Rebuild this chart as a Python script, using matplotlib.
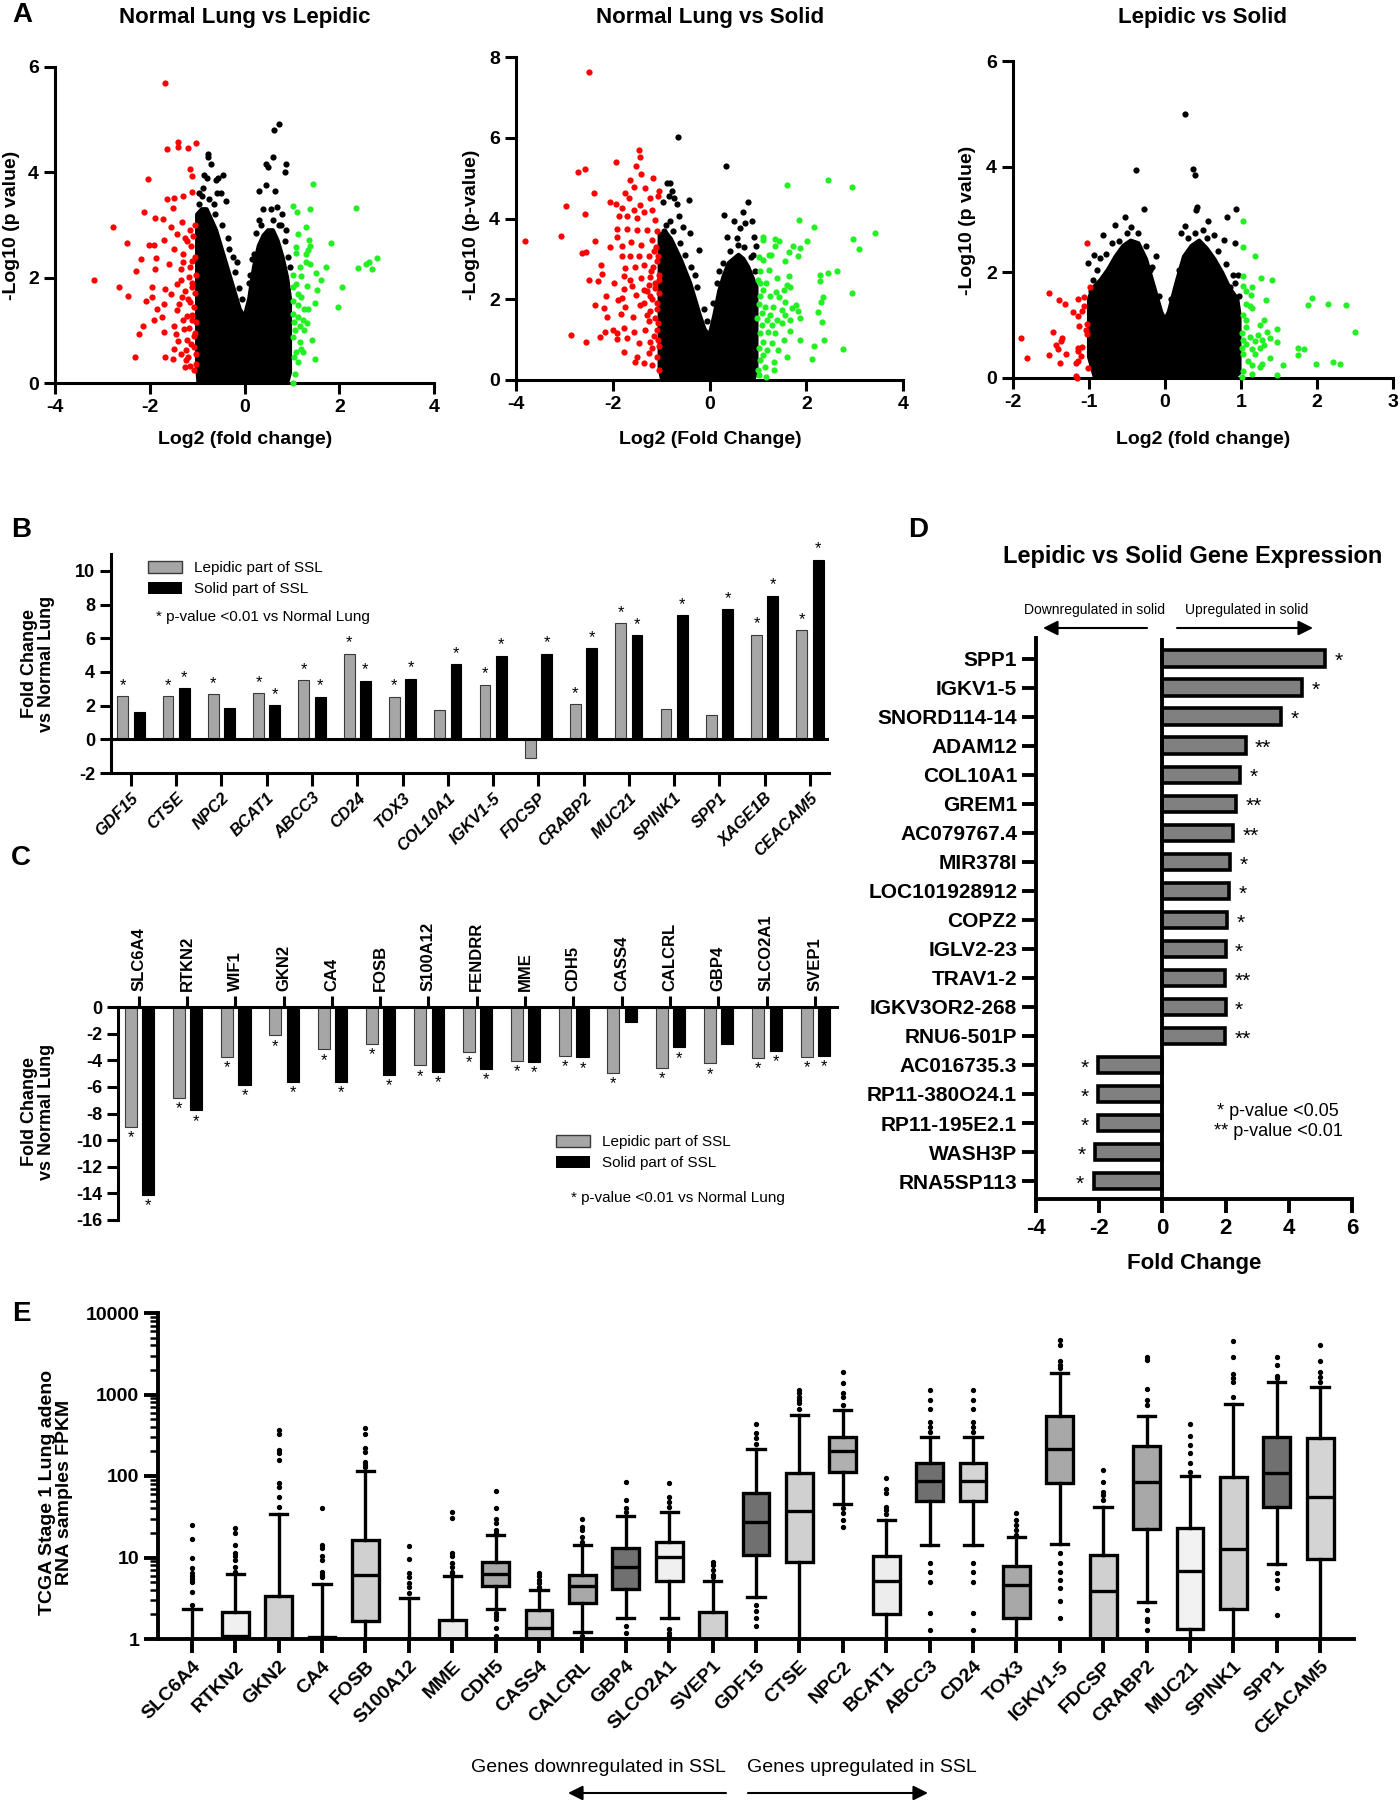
import matplotlib
matplotlib.use('Agg')
import matplotlib.pyplot as plt
from matplotlib.patches import Patch
from matplotlib.font_manager import FontProperties

plt.rcParams['font.family'] = ['Liberation Sans', 'DejaVu Sans']
plt.rcParams['axes.unicode_minus'] = False
NARROW = ['Liberation Sans Narrow', 'Liberation Sans', 'DejaVu Sans']

# ---------------- data: panel A (volcano plots) ----------------
a1_red = [(-1.68, 5.70), (-1.63, 4.44), (-1.41, 4.58), (-1.40, 4.49), (-1.19, 4.47), (-1.03, 4.55),
          (-2.04, 3.88), (-1.14, 4.07), (-1.11, 3.93), (-1.63, 3.50), (-1.49, 3.52), (-1.29, 3.55),
          (-1.10, 3.62), (-2.13, 3.24), (-1.50, 3.33), (-1.89, 3.14), (-1.73, 3.11), (-2.78, 2.97),
          (-1.56, 2.97), (-1.31, 3.05), (-2.48, 2.66), (-2.01, 2.62), (-1.91, 2.62), (-1.70, 2.71),
          (-1.42, 2.83), (-1.21, 2.70), (-2.19, 2.35), (-1.87, 2.38), (-1.49, 2.54), (-1.29, 2.45),
          (-1.10, 2.32), (-2.29, 2.13), (-1.89, 2.16), (-1.59, 2.26), (-1.35, 2.16), (-1.17, 2.01),
          (-3.18, 1.96), (-2.64, 1.82), (-1.96, 1.82), (-1.68, 1.79), (-1.42, 1.88), (-1.10, 1.82),
          (-2.45, 1.66), (-2.08, 1.56), (-1.96, 1.63), (-1.56, 1.69), (-1.31, 1.63), (-1.14, 1.53),
          (-1.85, 1.41), (-1.70, 1.50), (-1.42, 1.38), (-1.21, 1.28), (-1.92, 1.20), (-1.75, 1.25),
          (-1.49, 1.09), (-1.28, 1.03), (-1.10, 1.19), (-2.15, 1.09), (-2.22, 0.93), (-1.70, 0.97),
          (-1.45, 0.93), (-1.21, 0.81), (-1.07, 0.90), (-1.49, 0.65), (-1.24, 0.62), (-1.07, 0.68),
          (-2.31, 0.49), (-1.68, 0.49), (-1.51, 0.46), (-1.24, 0.43), (-1.14, 0.33), (-1.03, 0.37),
          (-1.05, 3.00), (-1.08, 2.80), (-1.12, 2.60), (-1.05, 2.40), (-1.15, 2.20), (-1.03, 2.05),
          (-1.10, 1.90), (-1.04, 1.70), (-1.20, 1.60), (-1.06, 1.45), (-1.10, 1.30), (-1.03, 1.15),
          (-1.18, 1.05), (-1.05, 0.95), (-1.12, 0.75), (-1.03, 0.55), (-1.20, 0.50), (-1.06, 0.25),
          (-1.25, 0.30), (-1.15, 2.90), (-1.25, 2.75), (-1.30, 2.30), (-1.35, 1.95), (-1.25, 1.75),
          (-1.38, 1.50), (-1.30, 1.20), (-1.40, 0.80), (-1.33, 0.55)]
a1_green = [(1.45, 3.78), (1.03, 3.36), (1.38, 3.31), (2.35, 3.33), (1.10, 3.24), (1.29, 2.97),
            (1.12, 2.83), (1.36, 2.72), (1.83, 2.65), (1.08, 2.59), (1.38, 2.61), (1.34, 2.52),
            (1.29, 2.45), (1.08, 2.46), (1.29, 2.29), (1.38, 2.26), (1.71, 2.21), (1.17, 2.20),
            (2.39, 2.18), (2.56, 2.26), (2.63, 2.29), (2.79, 2.37), (2.70, 2.16), (1.03, 2.06),
            (1.20, 2.04), (1.50, 2.08), (1.62, 1.96), (1.08, 1.88), (1.03, 1.82), (1.31, 1.85),
            (1.52, 1.77), (2.06, 1.83), (1.12, 1.69), (1.20, 1.63), (1.03, 1.56), (1.48, 1.52),
            (1.98, 1.45), (1.13, 1.49), (1.25, 1.41), (1.34, 1.41), (1.03, 1.31), (1.13, 1.25),
            (1.24, 1.19), (1.05, 1.15), (1.17, 1.09), (1.31, 1.14), (1.06, 1.00), (1.25, 1.01),
            (1.03, 0.87), (1.43, 0.81), (1.17, 0.78), (1.20, 0.65), (1.08, 0.59), (1.24, 0.59),
            (1.48, 0.46), (1.05, 0.49), (1.13, 0.40), (1.06, 0.18), (1.03, 0.00)]
a1_black = [(-0.78, 4.35), (-0.77, 4.30), (-0.70, 4.15), (-0.85, 3.95), (-0.80, 3.90), (-0.55, 3.90),
            (-0.45, 3.95), (-0.60, 3.85), (-0.58, 3.60), (-0.50, 3.60), (-0.40, 3.45), (-0.90, 3.55),
            (-0.75, 3.50), (0.30, 3.65), (0.45, 3.75), (0.45, 4.15), (0.50, 4.10), (0.60, 4.30),
            (0.62, 4.80), (0.72, 4.92), (0.87, 4.15), (0.86, 4.00), (0.65, 3.65), (0.68, 3.35),
            (0.55, 3.30), (0.38, 3.30), (0.30, 3.10), (0.80, 3.20), (0.78, 3.00), (0.88, 2.90),
            (-0.35, 2.75), (-0.25, 2.40), (0.10, 1.90), (0.20, 2.45), (0.92, 2.40), (-0.95, 3.40),
            (-0.95, 3.60), (-0.88, 3.70), (-0.65, 3.40), (-0.62, 3.20), (-0.47, 3.00), (-0.33, 2.55),
            (-0.20, 2.10), (-0.12, 1.80), (0.12, 2.05), (0.25, 2.85), (0.35, 3.00), (0.60, 3.10),
            (0.72, 3.00), (0.85, 2.70), (0.95, 2.20), (-0.15, 2.30), (0.15, 2.35), (-0.05, 1.60)]
a1_env = [(-0.97, 0.0), (-1.0, 0.3), (-1.0, 3.2), (-0.9, 3.3), (-0.8, 3.3), (-0.7, 3.1), (-0.6, 2.9),
          (-0.5, 2.6), (-0.4, 2.3), (-0.3, 2.0), (-0.2, 1.7), (-0.1, 1.4), (0.0, 1.25), (0.1, 1.6),
          (0.2, 2.2), (0.3, 2.6), (0.4, 2.8), (0.5, 2.9), (0.6, 2.9), (0.7, 2.7), (0.8, 2.4),
          (0.9, 2.0), (0.96, 1.6), (0.96, 0.2), (0.9, 0.0)]

a2_red = [(-2.50, 7.64), (-1.46, 5.70), (-1.43, 5.52), (-1.93, 5.40), (-2.57, 5.22), (-2.72, 5.16),
          (-1.52, 5.31), (-1.42, 5.10), (-1.17, 5.00), (-1.64, 4.96), (-1.57, 4.79), (-1.34, 4.75),
          (-2.39, 4.63), (-1.74, 4.64), (-1.05, 4.69), (-1.67, 4.50), (-1.22, 4.50), (-1.07, 4.55),
          (-2.96, 4.31), (-2.06, 4.40), (-1.93, 4.36), (-1.44, 4.34), (-1.81, 4.26), (-1.57, 4.20),
          (-1.36, 4.17), (-1.19, 4.21), (-2.58, 4.11), (-1.88, 4.05), (-1.71, 4.05), (-1.50, 4.01),
          (-1.12, 3.97), (-1.91, 3.74), (-1.71, 3.74), (-1.50, 3.72), (-1.29, 3.72), (-1.09, 3.68),
          (-3.82, 3.45), (-3.06, 3.57), (-2.36, 3.45), (-1.91, 3.55), (-1.81, 3.32), (-1.62, 3.43),
          (-1.42, 3.35), (-1.19, 3.47), (-2.06, 3.29), (-2.63, 3.14), (-2.56, 3.18), (-1.81, 3.07),
          (-1.65, 3.06), (-1.46, 3.06), (-1.26, 3.06), (-1.07, 3.07), (-2.24, 2.85), (-1.75, 2.77),
          (-1.55, 2.81), (-1.36, 2.85), (-1.16, 2.81), (-2.22, 2.63), (-2.30, 2.44), (-1.77, 2.58),
          (-1.64, 2.48), (-1.42, 2.52), (-1.22, 2.56), (-1.05, 2.48), (-2.50, 2.48), (-1.97, 2.41),
          (-1.77, 2.25), (-1.60, 2.33), (-1.36, 2.23), (-1.12, 2.27), (-2.13, 2.08), (-1.81, 2.02),
          (-1.51, 2.11), (-1.22, 2.07), (-2.36, 1.86), (-2.19, 1.78), (-1.90, 1.97), (-1.74, 1.82),
          (-1.43, 1.86), (-1.09, 1.90), (-2.12, 1.55), (-1.83, 1.64), (-1.59, 1.57), (-1.29, 1.61),
          (-1.12, 1.53), (-2.15, 1.20), (-2.00, 1.24), (-1.91, 1.16), (-1.77, 1.28), (-1.57, 1.18),
          (-1.33, 1.24), (-1.09, 1.24), (-2.86, 1.12), (-2.27, 1.07), (-1.91, 1.01), (-1.71, 1.03),
          (-1.46, 0.91), (-1.22, 0.95), (-1.05, 0.83), (-2.55, 0.95), (-1.76, 0.70), (-1.50, 0.58),
          (-1.26, 0.66), (-1.09, 0.58), (-1.53, 0.45), (-1.36, 0.41), (-1.19, 0.37), (-1.05, 0.26),
          (-1.10, 3.30), (-1.15, 3.20), (-1.08, 2.95), (-1.20, 2.70), (-1.05, 2.60), (-1.12, 2.40),
          (-1.25, 2.35), (-1.05, 2.15), (-1.18, 2.00), (-1.30, 2.20), (-1.08, 1.75), (-1.22, 1.70),
          (-1.35, 1.90), (-1.07, 1.40), (-1.15, 1.10), (-1.25, 1.45), (-1.06, 1.00), (-1.18, 0.80)]
a2_green = [(1.60, 4.83), (2.45, 4.96), (2.95, 4.77), (1.85, 3.97), (2.16, 3.80), (3.42, 3.65),
            (1.11, 3.55), (1.10, 3.47), (1.35, 3.50), (1.44, 3.45), (1.35, 3.32), (1.72, 3.32),
            (2.02, 3.45), (2.97, 3.49), (3.09, 3.25), (1.87, 3.26), (1.22, 3.10), (1.27, 3.10),
            (1.65, 3.16), (1.82, 3.06), (1.03, 3.04), (1.11, 2.98), (1.56, 2.95), (1.22, 2.73),
            (1.05, 2.69), (2.63, 2.70), (2.45, 2.66), (2.29, 2.60), (1.40, 2.52), (1.64, 2.58),
            (2.29, 2.44), (1.01, 2.48), (1.05, 2.40), (1.17, 2.40), (1.60, 2.36), (1.11, 2.23),
            (1.38, 2.17), (1.53, 2.23), (1.66, 2.30), (2.94, 2.15), (2.35, 2.05), (1.05, 2.08),
            (1.25, 2.07), (1.44, 2.05), (1.56, 1.94), (2.31, 1.92), (1.79, 1.86), (1.02, 1.88),
            (1.15, 1.82), (1.32, 1.80), (1.49, 1.74), (1.70, 1.78), (1.83, 1.72), (2.25, 1.69),
            (1.08, 1.65), (1.25, 1.61), (1.56, 1.61), (1.87, 1.53), (0.99, 1.53), (1.18, 1.49),
            (1.39, 1.49), (1.66, 1.49), (2.32, 1.43), (1.08, 1.36), (1.29, 1.36), (1.49, 1.40),
            (1.66, 1.21), (1.05, 1.16), (1.20, 1.20), (1.35, 1.16), (1.53, 0.98), (1.88, 0.99),
            (2.37, 0.98), (1.10, 0.95), (1.29, 0.91), (2.15, 0.85), (1.03, 0.79), (1.18, 0.74),
            (1.42, 0.74), (2.76, 0.77), (1.11, 0.62), (1.60, 0.58), (2.11, 0.52), (1.05, 0.50),
            (1.33, 0.45), (1.15, 0.33), (1.01, 0.25), (1.33, 0.25), (1.03, 0.12), (1.16, 0.07)]
a2_black = [(-0.66, 6.03), (0.34, 5.31), (-0.88, 4.89), (-0.81, 4.89), (-0.78, 4.67), (-0.83, 4.56),
            (-0.73, 4.50), (-0.43, 4.46), (-0.67, 4.36), (-0.96, 4.42), (-0.63, 4.05), (-0.81, 3.93),
            (0.80, 4.42), (0.69, 4.15), (0.30, 4.09), (0.50, 3.95), (0.87, 3.95), (0.74, 3.90),
            (0.63, 3.76), (0.92, 3.55), (0.36, 3.55), (0.56, 3.51), (0.96, 3.31), (-0.21, 3.21),
            (-0.40, 3.64), (-0.95, 3.68), (-0.54, 3.80), (-0.30, 2.60), (0.20, 2.70), (0.90, 3.10),
            (-0.90, 3.85), (-0.75, 3.70), (-0.62, 3.40), (-0.50, 3.10), (-0.38, 2.80), (-0.25, 2.30),
            (-0.12, 1.75), (0.08, 1.90), (0.15, 2.40), (0.28, 2.90), (0.42, 3.20), (0.58, 3.35),
            (0.72, 3.30), (0.85, 3.05), (0.95, 2.70), (-0.05, 1.45)]
a2_env = [(-0.98, 0.0), (-1.03, 0.3), (-1.03, 3.6), (-0.9, 3.65), (-0.8, 3.5), (-0.7, 3.25),
          (-0.6, 3.0), (-0.5, 2.7), (-0.4, 2.4), (-0.3, 2.0), (-0.2, 1.6), (-0.1, 1.25), (0.0, 1.1),
          (0.1, 1.6), (0.2, 2.2), (0.3, 2.6), (0.4, 2.9), (0.5, 3.0), (0.6, 3.1), (0.7, 3.0),
          (0.8, 2.8), (0.9, 2.5), (0.97, 2.3), (0.97, 0.2), (0.9, 0.0)]

a3_red = [(-1.02, 2.55), (-0.99, 1.72), (-1.52, 1.61), (-1.06, 1.54), (-1.15, 1.49), (-1.40, 1.48),
          (-1.32, 1.40), (-1.06, 1.36), (-1.21, 1.24), (-1.15, 1.17), (-1.09, 1.26), (-1.03, 1.03),
          (-1.13, 0.98), (-1.04, 0.90), (-1.48, 0.88), (-1.03, 0.84), (-1.36, 0.75), (-1.37, 0.70),
          (-1.90, 0.75), (-1.43, 0.62), (-1.15, 0.57), (-1.09, 0.59), (-1.41, 0.54), (-1.15, 0.52),
          (-1.30, 0.45), (-1.53, 0.44), (-1.81, 0.38), (-1.11, 0.41), (-1.15, 0.32), (-1.17, 0.28),
          (-1.38, 0.28), (-1.01, 0.18), (-1.17, 0.04), (-1.16, 0.00)]
a3_green = [(1.02, 2.98), (1.02, 2.48), (1.18, 2.31), (1.03, 1.94), (1.26, 1.90), (1.41, 1.86),
            (1.02, 1.74), (1.14, 1.72), (1.07, 1.64), (1.13, 1.57), (1.93, 1.52), (1.33, 1.47),
            (1.88, 1.38), (2.15, 1.41), (2.38, 1.38), (1.07, 1.41), (1.12, 1.36), (1.15, 1.33),
            (1.03, 1.19), (1.06, 1.09), (1.30, 1.09), (1.25, 1.00), (1.06, 0.97), (1.48, 0.93),
            (2.50, 0.87), (1.01, 0.85), (1.34, 0.88), (1.23, 0.82), (1.12, 0.78), (1.38, 0.76),
            (1.27, 0.71), (1.03, 0.71), (1.47, 0.68), (1.18, 0.70), (1.07, 0.65), (1.30, 0.63),
            (1.75, 0.56), (1.83, 0.54), (1.01, 0.57), (1.14, 0.54), (1.25, 0.56), (1.75, 0.43),
            (1.03, 0.46), (1.18, 0.46), (1.38, 0.37), (1.09, 0.33), (1.28, 0.27), (1.99, 0.27),
            (2.21, 0.30), (2.30, 0.27), (1.55, 0.24), (1.14, 0.24), (1.25, 0.20), (1.03, 0.13),
            (1.14, 0.08), (1.48, 0.06), (1.01, 0.02)]
a3_black = [(0.26, 5.00), (-0.38, 3.93), (0.37, 3.95), (0.39, 3.85), (0.42, 3.24), (0.41, 3.18),
            (-0.28, 3.20), (0.94, 3.19), (0.82, 3.04), (0.57, 2.98), (-0.53, 3.05), (-0.66, 2.89),
            (0.26, 2.87), (0.21, 2.74), (-0.81, 2.70), (0.92, 2.55), (0.77, 2.62), (-0.94, 2.32),
            (-0.85, 2.27), (-0.12, 2.31), (-0.17, 2.10), (-1.01, 2.17), (0.90, 1.95), (0.96, 1.95),
            (0.85, 1.72), (-0.70, 2.55), (0.65, 2.70), (-0.45, 2.85), (0.50, 2.80), (-0.95, 1.85),
            (-0.90, 2.05), (-0.78, 2.35), (-0.60, 2.60), (-0.50, 2.75), (-0.35, 2.75), (-0.25, 2.50),
            (-0.20, 2.05), (-0.08, 1.55), (0.08, 1.50), (0.18, 2.05), (0.30, 2.65), (0.40, 2.75),
            (0.55, 2.65), (0.70, 2.40), (0.80, 2.15), (0.92, 1.80), (-0.98, 1.65), (0.97, 1.55)]
a3_env = [(-0.92, 0.0), (-1.0, 0.4), (-1.0, 1.5), (-0.95, 1.7), (-0.85, 1.85), (-0.75, 2.05),
          (-0.65, 2.3), (-0.55, 2.5), (-0.45, 2.6), (-0.35, 2.55), (-0.25, 2.25), (-0.15, 1.75),
          (-0.05, 1.25), (0.0, 1.1), (0.05, 1.25), (0.15, 1.8), (0.25, 2.3), (0.35, 2.5), (0.45, 2.6),
          (0.55, 2.45), (0.65, 2.25), (0.75, 2.0), (0.85, 1.7), (0.95, 1.5), (0.98, 1.2), (0.98, 0.1),
          (0.9, 0.0)]

# ---------------- data: panel B ----------------
b_genes = ['GDF15', 'CTSE', 'NPC2', 'BCAT1', 'ABCC3', 'CD24', 'TOX3', 'COL10A1', 'IGKV1-5',
           'FDCSP', 'CRABP2', 'MUC21', 'SPINK1', 'SPP1', 'XAGE1B', 'CEACAM5']
b_lep = [2.56, 2.56, 2.68, 2.72, 3.52, 5.09, 2.52, 1.73, 3.24, -1.10, 2.07, 6.90, 1.81, 1.45, 6.20, 6.46]
b_sol = [1.61, 3.02, 1.85, 2.01, 2.54, 3.48, 3.60, 4.45, 4.97, 5.07, 5.41, 6.18, 7.36, 7.71, 8.53, 10.66]
b_lep_sig = [1, 1, 1, 1, 1, 1, 1, 0, 1, 0, 1, 1, 0, 0, 1, 1]
b_sol_sig = [0, 1, 0, 1, 1, 1, 1, 1, 1, 1, 1, 1, 1, 1, 1, 1]

# ---------------- data: panel C ----------------
c_genes = ['SLC6A4', 'RTKN2', 'WIF1', 'GKN2', 'CA4', 'FOSB', 'S100A12', 'FENDRR', 'MME', 'CDH5',
           'CASS4', 'CALCRL', 'GBP4', 'SLCO2A1', 'SVEP1']
c_lep = [-9.0, -6.85, -3.74, -2.14, -3.18, -2.76, -4.38, -3.37, -4.06, -3.69, -4.93, -4.56, -4.24, -3.84, -3.72]
c_sol = [-14.1, -7.76, -5.86, -5.62, -5.62, -5.12, -4.90, -4.63, -4.14, -3.79, -1.16, -3.03, -2.77, -3.27, -3.66]
c_lep_sig = [1, 1, 1, 1, 1, 1, 1, 1, 1, 1, 1, 1, 1, 1, 1]
c_sol_sig = [1, 1, 1, 1, 1, 1, 1, 1, 1, 1, 0, 1, 0, 1, 1]

# ---------------- data: panel D ----------------
d_genes = ['SPP1', 'IGKV1-5', 'SNORD114-14', 'ADAM12', 'COL10A1', 'GREM1', 'AC079767.4', 'MIR378I',
           'LOC101928912', 'COPZ2', 'IGLV2-23', 'TRAV1-2', 'IGKV3OR2-268', 'RNU6-501P', 'AC016735.3',
           'RP11-380O24.1', 'RP11-195E2.1', 'WASH3P', 'RNA5SP113']
d_fc = [5.15, 4.42, 3.76, 2.63, 2.46, 2.34, 2.23, 2.15, 2.11, 2.05, 2.00, 1.99, 2.00, 1.99,
        -2.04, -2.04, -2.04, -2.13, -2.18]
d_sig = ['*', '*', '*', '**', '*', '**', '**', '*', '*', '*', '*', '**', '*', '**', '*', '*', '*', '*', '*']

# ---------------- data: panel E ----------------
e_genes = ['SLC6A4', 'RTKN2', 'GKN2', 'CA4', 'FOSB', 'S100A12', 'MME', 'CDH5', 'CASS4', 'CALCRL',
           'GBP4', 'SLCO2A1', 'SVEP1', 'GDF15', 'CTSE', 'NPC2', 'BCAT1', 'ABCC3', 'CD24', 'TOX3',
           'IGKV1-5', 'FDCSP', 'CRABP2', 'MUC21', 'SPINK1', 'SPP1', 'CEACAM5']
e_q1 = [0.5, 0.8, 0.7, 0.5, 1.64, 0.5, 0.7, 4.5, 1.0, 2.76, 4.14, 5.18, 0.7, 10.8, 8.8, 113, 2.04,
        50, 50, 1.81, 83, 0.8, 22.2, 1.33, 2.33, 41.4, 9.5]
e_med = [0.5, 1.08, 0.9, 0.7, 6.13, 0.5, 0.9, 6.36, 1.36, 4.5, 7.55, 10.1, 0.9, 27.6, 37.6, 204, 5.18,
         88, 88, 4.6, 215, 3.83, 85, 6.9, 12.6, 110, 55]
e_q3 = [0.5, 2.12, 3.39, 1.05, 16.4, 0.5, 1.72, 8.7, 2.29, 6.13, 13.0, 15.4, 2.12, 61.5, 108, 302, 10.3,
        146, 146, 7.76, 545, 10.8, 232, 22.8, 98, 302, 295]
e_lo = [0.3, 0.3, 0.3, 0.3, 0.3, 0.3, 0.3, 2.33, 0.3, 1.21, 1.81, 1.81, 0.3, 3.27, 0.3, 45.3, 0.3,
        14.3, 14.3, 0.3, 14.7, 0.3, 2.81, 0.3, 0.3, 8.4, 0.3]
e_hi = [2.33, 6.3, 34.2, 4.67, 116, 3.15, 5.85, 19.0, 4.02, 14.3, 32.6, 36.6, 5.1, 212, 560, 653, 29,
        302, 302, 17.7, 1840, 41.4, 545, 100, 760, 1440, 1240]
e_fliers = [
    [25, 17, 10, 7.5, 6.5, 6, 5.5, 5, 3.8, 2.6],
    [22.7, 19.8, 14.3, 11.3, 10.3, 9.4, 7.7, 6.7],
    [366, 330, 208, 190, 157, 83, 74, 56, 42],
    [41, 14.3, 13, 10.3, 9.4, 6.7, 6.1, 5.8],
    [385, 328, 218, 199, 150, 137, 130],
    [13.9, 9.5, 6.4, 5.7, 4.9, 4.4, 3.7],
    [36.6, 30.3, 11.3, 10.3, 8.5, 7.7, 6.7, 6.4],
    [65.5, 40, 30, 26.3, 21.8, 20, 2.1, 1.93, 1.76, 1.36, 1.08],
    [6.4, 5.85, 5.3, 4.9, 4.4],
    [29.4, 24, 21.8, 18, 15.7, 1.08],
    [85, 51, 40, 36.6, 1.43, 1.18],
    [81, 56, 48.5, 42, 1.33, 1.18, 1.08],
    [8.9, 8.1, 7.1, 6.1, 5.75],
    [440, 334, 290, 250, 2.63, 2.18, 1.81, 1.46],
    [1140, 1030, 930, 860, 780, 670],
    [1900, 1380, 1030, 930, 740, 40, 35, 29, 23.5],
    [95, 68.8, 61.5, 42, 38.3, 34.3],
    [1150, 860, 670, 460, 400, 350, 8.5, 6.7, 4.94, 2.08, 1.28],
    [1150, 860, 670, 460, 400, 350, 8.5, 6.7, 4.94, 2.08, 1.28],
    [35.6, 29, 25, 21.8, 19],
    [4600, 4000, 2600, 2300, 2100, 11.3, 8.5, 6.7, 5.3, 4.2, 2.89, 1.81],
    [118, 85, 64, 58, 51],
    [2900, 2680, 1170, 860, 740, 2.29, 1.76, 1.65, 1.28],
    [440, 310, 240, 190, 143, 113],
    [4530, 2900, 1800, 1580, 1440, 930],
    [2900, 2300, 1700, 1580, 6.4, 5.3, 4.2, 1.99],
    [4100, 2600, 1900, 1630, 1440],
]
e_colors = ['#d0d0d0', '#f0f0f0', '#d0d0d0', '#d0d0d0', '#d0d0d0', '#d0d0d0', '#ededed', '#a8a8a8',
            '#c8c8c8', '#a8a8a8', '#707070', '#f0f0f0', '#d0d0d0', '#707070', '#d0d0d0', '#b0b0b0',
            '#ededed', '#707070', '#d4d4d4', '#a8a8a8', '#a8a8a8', '#d0d0d0', '#a8a8a8', '#f2f2f2',
            '#d0d0d0', '#707070', '#d4d4d4']

# ---------------- figure ----------------
W, H = 1400, 1800
fig = plt.figure(figsize=(14, 18), dpi=100)


def fx(px):
    return px / W


def fy(py):
    return 1 - py / H


def axes_px(x0, y0, x1, y1):
    return fig.add_axes([x0 / W, 1 - y1 / H, (x1 - x0) / W, (y1 - y0) / H])


def ftext(px, py, s, **kw):
    fig.text(fx(px), fy(py), s, **kw)


def arrow(ax, x0, y0, x1, y1):
    ax.annotate('', xy=(fx(x1), fy(y1)), xytext=(fx(x0), fy(y0)), xycoords='figure fraction',
                textcoords='figure fraction', annotation_clip=False,
                arrowprops=dict(arrowstyle='-|>', color='black', lw=1.5, mutation_scale=22,
                                shrinkA=0, shrinkB=0))


def base_style(ax, lw=2.2):
    for s in ['top', 'right']:
        ax.spines[s].set_visible(False)
    for s in ['left', 'bottom']:
        ax.spines[s].set_linewidth(lw)
    ax.tick_params(width=lw, length=8)


def volcano(ax, red, green, black, env, xlim, ylim, xticks, yticks):
    ex, ey = zip(*env)
    ax.fill(ex, ey, facecolor='black', edgecolor='black', lw=3, joinstyle='round', zorder=2)
    for pts, col in [(black, 'black'), (red, '#ff0000'), (green, '#22f022')]:
        px, py = zip(*pts)
        ax.scatter(px, py, s=20, c=col, lw=0, zorder=3, clip_on=False)
    ax.set_xlim(xlim)
    ax.set_ylim(ylim)
    ax.set_xticks(xticks, [str(t) for t in xticks], fontsize=14, fontweight='bold')
    ax.set_yticks(yticks, [str(t) for t in yticks], fontsize=14, fontweight='bold')
    base_style(ax)


# Panel A
ax1 = axes_px(55, 67, 434, 383)
volcano(ax1, a1_red, a1_green, a1_black, a1_env, (-4, 4), (0, 6), [-4, -2, 0, 2, 4], [0, 2, 4, 6])
ax2 = axes_px(516, 57, 903, 380)
volcano(ax2, a2_red, a2_green, a2_black, a2_env, (-4, 4), (0, 8), [-4, -2, 0, 2, 4], [0, 2, 4, 6, 8])
ax3 = axes_px(1013, 61, 1393, 378)
volcano(ax3, a3_red, a3_green, a3_black, a3_env, (-2, 3), (0, 6), [-2, -1, 0, 1, 2, 3], [0, 2, 4, 6])

ftext(22, 15, 'A', fontsize=20, fontweight='bold', va='center', ha='center')
for cx, t in [(245, 'Normal Lung vs Lepidic'), (710, 'Normal Lung vs Solid'), (1203, 'Lepidic vs Solid')]:
    ftext(cx, 17, t, fontsize=16, fontweight='bold', ha='center', va='center')
for cx, t in [(245, 'Log2 (fold change)'), (710, 'Log2 (Fold Change)'), (1203, 'Log2 (fold change)')]:
    ftext(cx, 440, t, fontsize=14, fontweight='bold', ha='center', va='center')
for cx, cy, t in [(12, 225, '-Log10 (p value)'), (472, 225, '-Log10 (p-value)'), (968, 220, '-Log10 (p value)')]:
    ftext(cx, cy, t, fontsize=14, fontweight='bold', ha='center', va='center', rotation=90)

# Panel B
axB = axes_px(111, 554, 829, 773)
xb = list(range(len(b_genes)))
axB.bar([x - 0.18 for x in xb], b_lep, 0.24, color='#a6a6a6', edgecolor='#3a3a3a', lw=0.8, zorder=2)
axB.bar([x + 0.18 for x in xb], b_sol, 0.24, color='black', edgecolor='black', lw=0.8, zorder=2)
for i in xb:
    if b_lep_sig[i]:
        axB.text(i - 0.18, b_lep[i] + 0.2, '*', ha='center', va='bottom', fontsize=12)
    if b_sol_sig[i]:
        axB.text(i + 0.18, b_sol[i] + 0.2, '*', ha='center', va='bottom', fontsize=12)
axB.axhline(0, color='black', lw=2.2, zorder=3)
axB.set_xlim(-0.44, 15.42)
axB.set_ylim(-2, 11)
axB.set_yticks(range(-2, 11, 2), [str(v) for v in range(-2, 11, 2)], fontsize=13, fontweight='bold')
axB.set_xticks(xb, b_genes, fontsize=12, fontweight='bold', fontstyle='italic', rotation=45,
               ha='right', rotation_mode='anchor')
base_style(axB)
axB.tick_params(axis='x', length=9)
axB.legend(handles=[Patch(facecolor='#a6a6a6', edgecolor='#3a3a3a'), Patch(facecolor='black')],
           labels=['Lepidic part of SSL', 'Solid part of SSL'], loc='upper left',
           bbox_to_anchor=(fx(148), fy(561)), bbox_transform=fig.transFigure, frameon=False,
           prop=FontProperties(family=NARROW, size=11), handlelength=2.2, handleheight=0.8,
           labelspacing=0.45, borderpad=0, borderaxespad=0)
ftext(156, 617, '* p-value <0.01 vs Normal Lung', family=NARROW, fontsize=11, va='center')
ftext(21, 530, 'B', fontsize=20, fontweight='bold', ha='center', va='center')
ftext(38, 664, 'Fold Change\nvs Normal Lung', fontsize=13, fontweight='bold', ha='center',
      va='center', rotation=90, linespacing=1.0)

# Panel C
axC = axes_px(118, 1007, 837, 1220)
xc = list(range(len(c_genes)))
axC.bar([x - 0.17 for x in xc], c_lep, 0.25, color='#a6a6a6', edgecolor='#3a3a3a', lw=0.8, zorder=2)
axC.bar([x + 0.19 for x in xc], c_sol, 0.25, color='black', edgecolor='black', lw=0.8, zorder=2)
for i in xc:
    if c_lep_sig[i]:
        axC.text(i - 0.17, c_lep[i] - 0.25, '*', ha='center', va='top', fontsize=12)
    if c_sol_sig[i]:
        axC.text(i + 0.19, c_sol[i] - 0.25, '*', ha='center', va='top', fontsize=12)
axC.set_xlim(-0.43, 14.46)
axC.set_ylim(-16, 0)
for s in ['bottom', 'right']:
    axC.spines[s].set_visible(False)
for s in ['left', 'top']:
    axC.spines[s].set_linewidth(2.2)
axC.xaxis.tick_top()
axC.tick_params(width=2.2, length=8)
axC.set_xticks(xc, c_genes, fontsize=12, fontweight='bold', rotation=90)
axC.set_yticks(range(-16, 1, 2), [str(v) for v in range(-16, 1, 2)], fontsize=13, fontweight='bold')
axC.legend(handles=[Patch(facecolor='#a6a6a6', edgecolor='#3a3a3a'), Patch(facecolor='black')],
           labels=['Lepidic part of SSL', 'Solid part of SSL'], loc='upper left',
           bbox_to_anchor=(fx(556), fy(1135)), bbox_transform=fig.transFigure, frameon=False,
           prop=FontProperties(family=NARROW, size=11), handlelength=2.2, handleheight=0.8,
           labelspacing=0.45, borderpad=0, borderaxespad=0)
ftext(571, 1198, '* p-value <0.01 vs Normal Lung', family=NARROW, fontsize=11, va='center')
ftext(21, 858, 'C', fontsize=20, fontweight='bold', ha='center', va='center')
ftext(38, 1112, 'Fold Change\nvs Normal Lung', fontsize=13, fontweight='bold', ha='center',
      va='center', rotation=90, linespacing=1.0)

# Panel D
axD = axes_px(1036, 638, 1352, 1199)
yd = list(range(len(d_genes)))
axD.barh(yd, d_fc, 0.58, color='#808080', edgecolor='black', lw=2.6, zorder=2)
axD.axvline(0, color='black', lw=2.8, zorder=3)
for i in yd:
    if d_fc[i] > 0:
        axD.text(d_fc[i] + 0.3, i + 0.1, d_sig[i], ha='left', va='center', fontsize=15)
    else:
        axD.text(d_fc[i] - 0.3, i + 0.1, d_sig[i], ha='right', va='center', fontsize=15)
axD.set_xlim(-4, 6)
axD.set_ylim(18.62, -0.72)
base_style(axD, lw=2.8)
axD.tick_params(length=10)
axD.set_yticks(yd, d_genes, fontsize=15, fontweight='bold')
axD.set_xticks(range(-4, 7, 2), [str(v) for v in range(-4, 7, 2)], fontsize=16, fontweight='bold')
axD.set_xlabel('Fold Change', fontsize=16, fontweight='bold', labelpad=10)
ftext(918, 530, 'D', fontsize=20, fontweight='bold', ha='center', va='center')
ftext(1193, 557, 'Lepidic vs Solid Gene Expression', fontsize=17, fontweight='bold', ha='center',
      va='center')
ftext(1094, 610, 'Downregulated in solid', family=NARROW, fontsize=10, ha='center', va='center')
ftext(1247, 610, 'Upregulated in solid', family=NARROW, fontsize=10, ha='center', va='center')
arrow(axD, 1147, 628, 1043, 628)
arrow(axD, 1177, 628, 1313, 628)
ftext(1278, 1111, '* p-value <0.05', fontsize=13, ha='center', va='center')
ftext(1278, 1132, '** p-value <0.01', fontsize=13, ha='center', va='center')

# Panel E
axE = axes_px(158, 1313, 1354, 1639)
stats = []
for i, g in enumerate(e_genes):
    stats.append(dict(med=e_med[i], q1=e_q1[i], q3=e_q3[i], whislo=e_lo[i], whishi=e_hi[i],
                      fliers=e_fliers[i], label=g))
bp = axE.bxp(stats, positions=list(range(len(e_genes))), widths=0.62, capwidths=0.4,
             patch_artist=True, showfliers=True,
             boxprops=dict(lw=2.4, edgecolor='black'),
             medianprops=dict(color='black', lw=2.4),
             whiskerprops=dict(color='black', lw=2.4),
             capprops=dict(color='black', lw=2.4),
             flierprops=dict(marker='o', markersize=2.8, markerfacecolor='black',
                             markeredgecolor='black'))
for patch, col in zip(bp['boxes'], e_colors):
    patch.set_facecolor(col)
axE.set_yscale('log')
axE.set_ylim(1, 10000)
axE.set_xlim(-0.78, 26.78)
base_style(axE, lw=2.8)
axE.tick_params(length=10)
axE.tick_params(axis='y', which='minor', length=6, width=1.8)
axE.set_yticks([1, 10, 100, 1000, 10000], ['1', '10', '100', '1000', '10000'], fontsize=14,
               fontweight='bold')
axE.set_xticks(list(range(len(e_genes))), e_genes, fontsize=14, fontweight='bold', rotation=45,
               ha='right', rotation_mode='anchor')
ftext(21, 1314, 'E', fontsize=20, fontweight='bold', ha='center', va='center')
ftext(56, 1492, 'TCGA Stage 1 Lung adeno\nRNA samples FPKM', fontsize=14, fontweight='bold',
      ha='center', va='center', rotation=90, linespacing=1.0)
ftext(598, 1768, 'Genes downregulated in SSL', family=NARROW, fontsize=14, ha='center', va='center')
ftext(862, 1768, 'Genes upregulated in SSL', family=NARROW, fontsize=14, ha='center', va='center')
arrow(axE, 726, 1793, 568, 1793)
arrow(axE, 748, 1793, 928, 1793)

fig.savefig('out.png', dpi=100)
